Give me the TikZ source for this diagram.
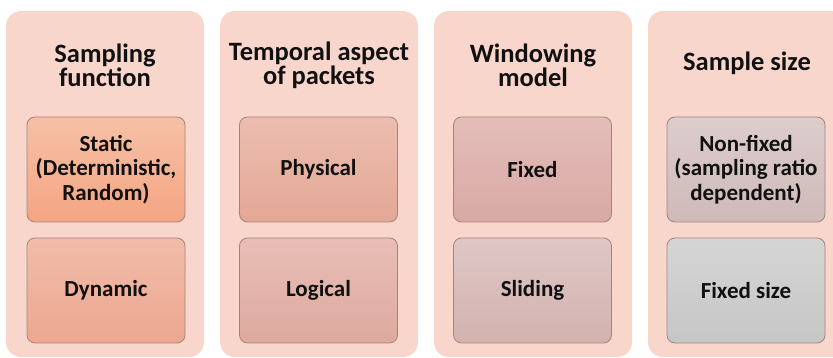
\documentclass[tikz,border=0pt]{standalone}
\usepackage{fontspec}
\setmainfont{Carlito}
\usepackage{xcolor}
\usetikzlibrary{positioning}
\definecolor{spPanel}{HTML}{F8D6CC}
\definecolor{spEdge}{HTML}{A3847C}
\definecolor{spInk}{HTML}{111111}
% gradient ends of the option boxes, top and bottom
\definecolor{spStaticT}{HTML}{F6C0A6}\definecolor{spStaticB}{HTML}{F4A583}
\definecolor{spDynT}{HTML}{F1BCA9}\definecolor{spDynB}{HTML}{ECA790}
\definecolor{spPhysT}{HTML}{ECBDAF}\definecolor{spPhysB}{HTML}{E3A795}
\definecolor{spLogT}{HTML}{E8BEB6}\definecolor{spLogB}{HTML}{DDA99E}
\definecolor{spFixT}{HTML}{E4BDB9}\definecolor{spFixB}{HTML}{D8A9A5}
\definecolor{spSlideT}{HTML}{DFC7C5}\definecolor{spSlideB}{HTML}{D2B2AF}
\definecolor{spNonT}{HTML}{DCCDCC}\definecolor{spNonB}{HTML}{CEBAB8}
\definecolor{spSizeT}{HTML}{D5D5D5}\definecolor{spSizeB}{HTML}{C6C6C6}
\tikzset{
  sp diagram/.style={x=1pt, y=1pt, font=\bfseries, text=spInk},
  sp column/.style={fill=spPanel, rounded corners=15pt,
    minimum width=198pt, minimum height=346pt, inner sep=0pt},
  sp head/.style={align=center, font=\bfseries\fontsize{26.5}{24}\selectfont},
  sp item/.style={draw=spEdge, line width=0.8pt, rounded corners=8pt,
    minimum width=158pt, minimum height=105pt, inner sep=2pt,
    align=center, font=\bfseries\fontsize{23}{24.5}\selectfont}
}

\begin{document}
\begin{tikzpicture}[sp diagram]
\useasboundingbox (0,0) rectangle (833,358);
\clip (0,0) rectangle (833,358);
% four panels, one per sampling aspect
\foreach \i/\x in {1/105,2/319,3/533,4/747}
  \node[sp column] (col\i) at (\x,174) {};
\node[sp head] (h1) at (105,293) {Sampling\\function};
\node[sp head] (h2) at (319,293) {Temporal aspect\\of packets};
\node[sp head] (h3) at (533,293) {Windowing\\model};
\node[sp head] (h4) at (747,295) {Sample size};
% options in each panel
\node[sp item, top color=spStaticT, bottom color=spStaticB] (static) at (106,188.5)
  {Static\\(Deterministic,\\Random)};
\node[sp item, top color=spDynT, bottom color=spDynB] (dynamic) at (106,67.5) {Dynamic};
\node[sp item, top color=spPhysT, bottom color=spPhysB] (physical) at (318.5,188.5) {Physical};
\node[sp item, top color=spLogT, bottom color=spLogB] (logical) at (318.5,67.5) {Logical};
\node[sp item, top color=spFixT, bottom color=spFixB] (fixed) at (532.5,188.5) {Fixed};
\node[sp item, top color=spSlideT, bottom color=spSlideB] (sliding) at (532.5,67.5) {Sliding};
\node[sp item, top color=spNonT, bottom color=spNonB] (nonfixed) at (746,188.5)
  {Non-fixed\\(sampling ratio\\dependent)};
\node[sp item, top color=spSizeT, bottom color=spSizeB] (fixedsize) at (746,67.5) {Fixed size};
\end{tikzpicture}
\end{document}
